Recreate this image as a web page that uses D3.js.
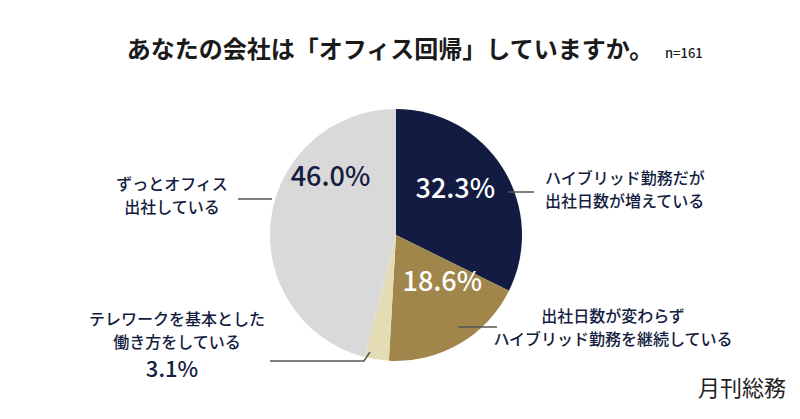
<!DOCTYPE html><html><head><meta charset="utf-8"><script src="https://cdn.jsdelivr.net/npm/d3@7"></script>
<style>body{margin:0;background:#fff}text{font-family:"Noto Sans CJK JP","Noto Sans",sans-serif}</style></head><body>
<svg id="c" width="800" height="419"></svg>
<script>
const categories=["ハイブリッド勤務だが出社日数が増えている","出社日数が変わらずハイブリッド勤務を継続している","テレワークを基本とした働き方をしている","ずっとオフィス出社している"];
const values=[32.3,18.6,3.1,46.0];
const colors=["#121b42","#a0864a","#e4dcb4","#d9d9d9"];
const svg=d3.select("#c");
const cx=396,cy=235,r=126;
const ink="#141c40";
svg.append("text").attr("x",390).attr("y",58).attr("text-anchor","middle").attr("font-size",24).attr("font-weight",700).attr("fill","#1a1a1a").text("あなたの会社は「オフィス回帰」していますか。");
svg.append("text").attr("x",665).attr("y",58).attr("font-size",13).attr("font-weight",500).attr("fill","#1a1a1a").text("n=161");
const pie=d3.pie().sort(null)(values);
const arc=d3.arc().innerRadius(0).outerRadius(r);
const g=svg.append("g").attr("transform",`translate(${cx},${cy})`);
g.selectAll("path").data(pie).join("path").attr("d",arc).attr("fill",(d,i)=>colors[i]);
const lab=d3.arc().innerRadius(r*0.62).outerRadius(r*0.62);
const offs=[[-7,-7],[7,-23],null,[12,-51]];
pie.forEach((d,i)=>{if(i==2)return;const c=lab.centroid(d);
 g.append("text").attr("x",c[0]+offs[i][0]).attr("y",c[1]+offs[i][1]).attr("text-anchor","middle").attr("dominant-baseline","central").attr("font-size",27).attr("font-weight",500).attr("fill",i<2?"#fff":ink).text(d3.format(".1f")(values[i])+"%");});
const line=(pts)=>svg.append("polyline").attr("points",pts.map(p=>p.join(",")).join(" ")).attr("fill","none").attr("stroke","#555").attr("stroke-width",1.5);
line([[508,192],[534,192]]);
line([[458,327],[497,327]]);
line([[370,352],[364,361],[270,361]]);
line([[238,199],[272,199]]);
const txt=(x,y,s,anchor,size)=>svg.append("text").attr("x",x).attr("y",y).attr("text-anchor",anchor).attr("font-size",size||16).attr("font-weight",500).attr("fill",ink).text(s);
txt(545,184,"ハイブリッド勤務だが","start");
txt(545,207,"出社日数が増えている","start");
txt(613,322,"出社日数が変わらず","middle");
txt(613,345,"ハイブリッド勤務を継続している","middle");
txt(172,190,"ずっとオフィス","middle");
txt(172,213,"出社している","middle");
txt(177,325,"テレワークを基本とした","middle");
txt(177,348,"働き方をしている","middle");
txt(172,377,d3.format(".1f")(values[2])+"%","middle",22);
svg.append("text").attr("x",786).attr("y",396).attr("text-anchor","end").attr("font-size",22).attr("fill","#222").text("月刊総務");
</script></body></html>
